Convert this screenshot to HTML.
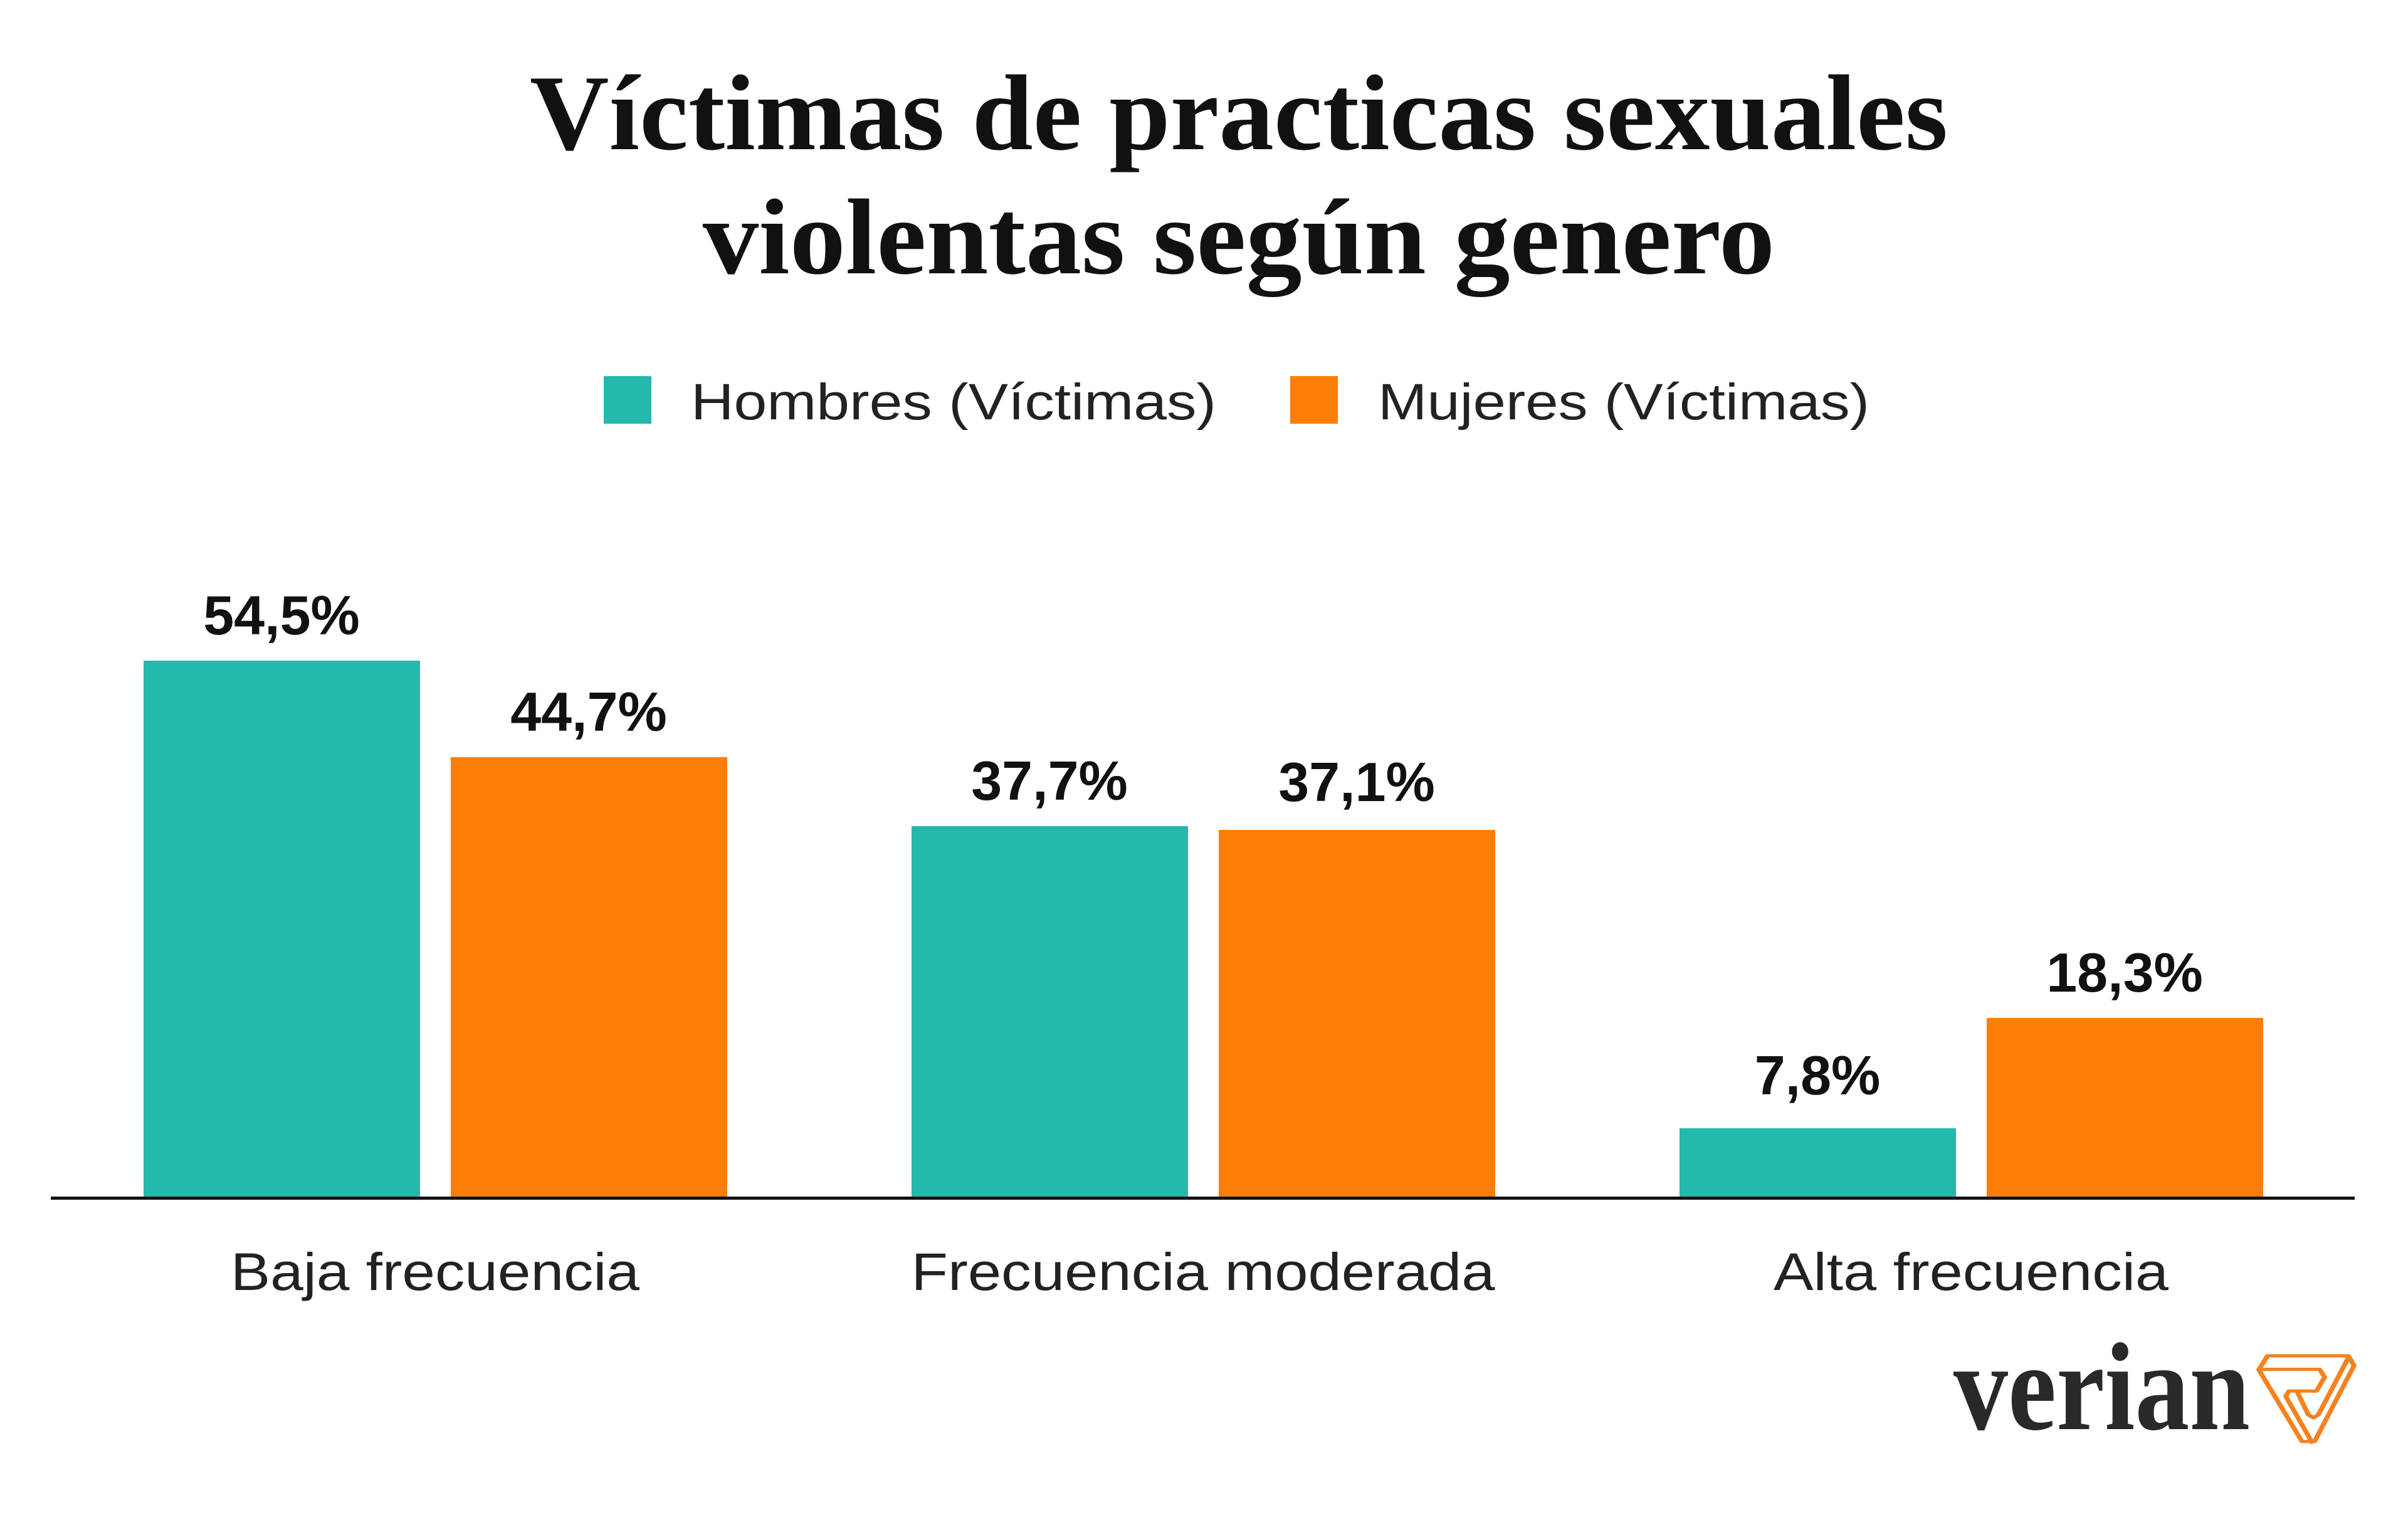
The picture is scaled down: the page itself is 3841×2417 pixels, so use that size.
<!DOCTYPE html>
<html><head><meta charset="utf-8"><style>
html,body{margin:0;padding:0;background:#fff;}
svg{display:block;}
</style></head><body>
<svg width="3841" height="2417" viewBox="0 0 3841 2417" xmlns="http://www.w3.org/2000/svg">
<rect width="3841" height="2417" fill="#fff"/>
<g font-family="Liberation Serif, serif" font-weight="bold" fill="#111" font-size="172" text-anchor="middle">
<text x="1976" y="238" textLength="2262" lengthAdjust="spacingAndGlyphs">Víctimas de practicas sexuales</text>
<text x="1976" y="436" textLength="1710" lengthAdjust="spacingAndGlyphs">violentas según genero</text>
</g>
<rect x="963" y="600" width="76" height="76" fill="#23b9ad"/>
<rect x="2058" y="600" width="76" height="76" fill="#fd7e07"/>
<g font-family="Liberation Sans, sans-serif" font-size="82" fill="#222">
<text x="1102" y="669" textLength="838" lengthAdjust="spacingAndGlyphs">Hombres (Víctimas)</text>
<text x="2198" y="669" textLength="784" lengthAdjust="spacingAndGlyphs">Mujeres (Víctimas)</text>
</g>
<g fill="#23b9ad">
<rect x="229" y="1054" width="441" height="857"/>
<rect x="1454" y="1318" width="441" height="593"/>
<rect x="2679" y="1800" width="441" height="111"/>
</g>
<g fill="#fd7e07">
<rect x="719" y="1208" width="441" height="703"/>
<rect x="1944" y="1324" width="441" height="587"/>
<rect x="3169" y="1624" width="441" height="287"/>
</g>
<rect x="81" y="1909" width="3675" height="5" fill="#111"/>
<g font-family="Liberation Sans, sans-serif" font-weight="bold" font-size="88" fill="#111" text-anchor="middle">
<text x="449" y="1012">54,5%</text>
<text x="939" y="1166">44,7%</text>
<text x="1674" y="1276">37,7%</text>
<text x="2164" y="1278">37,1%</text>
<text x="2899" y="1746">7,8%</text>
<text x="3389" y="1582">18,3%</text>
</g>
<g font-family="Liberation Sans, sans-serif" font-size="84" fill="#222" text-anchor="middle">
<text x="694" y="2058" textLength="652" lengthAdjust="spacingAndGlyphs">Baja frecuencia</text>
<text x="1919" y="2058" textLength="931" lengthAdjust="spacingAndGlyphs">Frecuencia moderada</text>
<text x="3144" y="2058" textLength="630" lengthAdjust="spacingAndGlyphs">Alta frecuencia</text>
</g>
<text x="3116" y="2280" font-family="Liberation Serif, serif" font-weight="bold" font-size="200" fill="#2a2927" textLength="473" lengthAdjust="spacingAndGlyphs">verian</text>
<g transform="translate(0,2163) scale(1,0.654) translate(0,-2206)" fill="none" stroke="#f58220" stroke-width="8" stroke-linejoin="round">
<path d="M3617 2206 L3746 2206 L3755 2230 L3692 2415 L3672 2415 L3603 2240 Z"/>
<path d="M3606 2239 L3700 2239 L3708 2258 L3695 2292 L3651 2292 L3646 2305 L3689 2420"/>
<path d="M3746 2210 L3698 2350 L3690 2357 L3682 2350 L3664 2293"/>
</g>
</svg>
</body></html>
